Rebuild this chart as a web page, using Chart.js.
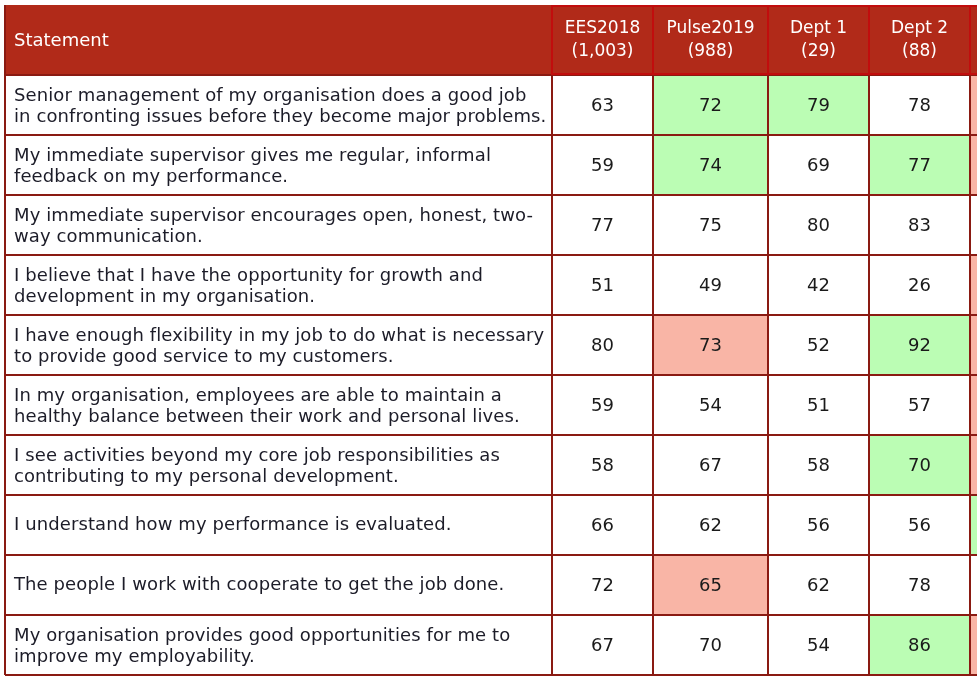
<!DOCTYPE html>
<html>
<head>
<meta charset="utf-8">
<script src="https://cdn.jsdelivr.net/npm/chart.js@4.4.1/dist/chart.umd.min.js"></script>
<style>
  html, body { margin: 0; padding: 0; background: #fff; }
</style>
</head>
<body>
<canvas id="surveyTable" width="977" height="679"></canvas>
<script>
const statements = [
  ["Senior management of my organisation does a good job", "in confronting issues before they become major problems."],
  ["My immediate supervisor gives me regular, informal", "feedback on my performance."],
  ["My immediate supervisor encourages open, honest, two-", "way communication."],
  ["I believe that I have the opportunity for growth and", "development in my organisation."],
  ["I have enough flexibility in my job to do what is necessary", "to provide good service to my customers."],
  ["In my organisation, employees are able to maintain a", "healthy balance between their work and personal lives."],
  ["I see activities beyond my core job responsibilities as", "contributing to my personal development."],
  ["I understand how my performance is evaluated."],
  ["The people I work with cooperate to get the job done."],
  ["My organisation provides good opportunities for me to", "improve my employability."],
];

const columnNames = ["EES2018", "Pulse2019", "Dept 1", "Dept 2", ""];
const sampleSizes = ["(1,003)", "(988)", "(29)", "(88)", ""];

const ees2018 = [63, 59, 77, 51, 80, 59, 58, 66, 72, 67];
const pulse2019 = [72, 74, 75, 49, 73, 54, 67, 62, 65, 70];
const dept1 = [79, 69, 80, 42, 52, 51, 58, 56, 62, 54];
const dept2 = [78, 77, 83, 26, 92, 57, 70, 56, 78, 86];
const dept3 = [null, null, null, null, null, null, null, null, null, null]; // cut off at the edge

// "+" = significantly higher (green), "-" = lower (red), "" = no difference
const ees2018Flags = ["", "", "", "", "", "", "", "", "", ""];
const pulse2019Flags = ["+", "+", "", "", "-", "", "", "", "-", ""];
const dept1Flags = ["+", "", "", "", "", "", "", "", "", ""];
const dept2Flags = ["", "+", "", "", "+", "", "+", "", "", "+"];
const dept3Flags = ["-", "-", "", "-", "-", "-", "-", "+", "", "-"];

const seriesValues = [ees2018, pulse2019, dept1, dept2, dept3];
const seriesFlags = [ees2018Flags, pulse2019Flags, dept1Flags, dept2Flags, dept3Flags];

// --- layout ---
const colEdges = [5, 552, 653, 768, 869, 970, 1075];
const headerTop = 5;
const FONT = '"Century Gothic", "URW Gothic", "DejaVu Sans", sans-serif';
const HEADER_BG = "#b12a19";
const HEADER_LINE = "#c10d0d";
const GRID = "#8a1a12";
const flagColor = { "+": "#bbfdb4", "-": "#f9b5a6", "": "#ffffff" };

const datasets = seriesValues.map((vals, c) => ({
  label: columnNames[c],
  data: vals.map(() => [colEdges[c + 1], colEdges[c + 2]]),
  backgroundColor: seriesFlags[c].map((f) => flagColor[f]),
  borderWidth: 0,
  grouped: false,
  barPercentage: 1,
  categoryPercentage: 1,
}));

const tablePlugin = {
  id: "tablePlugin",
  beforeDraw(chart) {
    const { ctx, chartArea, scales } = chart;
    const x = scales.x;
    ctx.save();
    ctx.fillStyle = HEADER_BG;
    ctx.fillRect(x.getPixelForValue(colEdges[0]), headerTop, chart.width, chartArea.top - headerTop);
    ctx.restore();
  },
  afterDatasetsDraw(chart) {
    const { ctx, chartArea, scales } = chart;
    const x = scales.x, y = scales.y;
    const n = statements.length;
    const left = x.getPixelForValue(colEdges[0]);
    ctx.save();
    ctx.strokeStyle = GRID;
    ctx.lineWidth = 2;
    // row lines
    for (let i = 0; i <= n; i++) {
      let py;
      if (i === 0) py = chartArea.top;
      else if (i === n) py = chartArea.bottom;
      else py = (y.getPixelForValue(i - 1) + y.getPixelForValue(i)) / 2;
      ctx.beginPath();
      ctx.moveTo(left, py);
      ctx.lineTo(chart.width, py);
      ctx.stroke();
    }
    // column lines in body
    colEdges.slice(0, -1).forEach((e) => {
      const px = x.getPixelForValue(e);
      ctx.beginPath();
      ctx.moveTo(px, chartArea.top);
      ctx.lineTo(px, chartArea.bottom);
      ctx.stroke();
    });
    // header cell borders for the data columns
    ctx.strokeStyle = HEADER_LINE;
    colEdges.slice(1, -1).forEach((e) => {
      const px = x.getPixelForValue(e);
      ctx.beginPath();
      ctx.moveTo(px, headerTop);
      ctx.lineTo(px, chartArea.top);
      ctx.stroke();
    });
    ctx.beginPath();
    ctx.moveTo(x.getPixelForValue(colEdges[1]), headerTop + 1);
    ctx.lineTo(chart.width, headerTop + 1);
    ctx.moveTo(x.getPixelForValue(colEdges[1]), chartArea.top - 1);
    ctx.lineTo(chart.width, chartArea.top - 1);
    ctx.stroke();
    ctx.strokeStyle = GRID;
    ctx.beginPath();
    ctx.moveTo(left, headerTop);
    ctx.lineTo(left, chartArea.top);
    ctx.stroke();
    ctx.restore();
  },
  afterDraw(chart) {
    const { ctx, chartArea, scales } = chart;
    const x = scales.x, y = scales.y;
    ctx.save();
    ctx.font = "17px " + FONT;
    ctx.textBaseline = "middle";

    // header
    const hMid = (headerTop + chartArea.top) / 2;
    ctx.fillStyle = "#ffffff";
    ctx.textAlign = "left";
    ctx.font = "18px " + FONT;
    ctx.fillText("Statement", x.getPixelForValue(colEdges[0]) + 9, hMid + 1);
    ctx.font = "17px " + FONT;
    ctx.textAlign = "center";
    columnNames.forEach((name, c) => {
      const cx = (x.getPixelForValue(colEdges[c + 1]) + x.getPixelForValue(colEdges[c + 2])) / 2;
      ctx.fillText(name, cx, hMid - 11);
      ctx.fillText(sampleSizes[c], cx, hMid + 12);
    });

    // statements
    ctx.fillStyle = "#1c1c28";
    ctx.textAlign = "left";
    ctx.font = "18px " + FONT;
    ctx.letterSpacing = "0.1px";
    statements.forEach((lines, r) => {
      const cy = y.getPixelForValue(r);
      lines.forEach((line, k) => {
        const off = lines.length === 1 ? 0 : (k === 0 ? -9 : 12);
        ctx.fillText(line, x.getPixelForValue(colEdges[0]) + 9, cy + off);
      });
    });
    ctx.letterSpacing = "0px";

    // values
    ctx.font = "18px " + FONT;
    ctx.textAlign = "center";
    ctx.fillStyle = "#1a1a1a";
    seriesValues.forEach((vals, c) => {
      const meta = chart.getDatasetMeta(c);
      vals.forEach((v, r) => {
        if (v === null) return;
        const bar = meta.data[r];
        const cx = (bar.x + bar.base) / 2;
        ctx.fillText(String(v), cx, bar.y + 1);
      });
    });
    ctx.restore();
  },
};

new Chart(document.getElementById("surveyTable"), {
  type: "bar",
  data: {
    labels: statements,
    datasets: datasets,
  },
  options: {
    indexAxis: "y",
    responsive: false,
    animation: false,
    layout: { padding: { top: 75, bottom: 4, left: 0, right: 0 } },
    plugins: {
      legend: { display: false },
      tooltip: { enabled: false },
    },
    scales: {
      x: { type: "linear", min: 0, max: 977, display: false },
      y: { type: "category", display: false, offset: true },
    },
  },
  plugins: [tablePlugin],
});
</script>
</body>
</html>
